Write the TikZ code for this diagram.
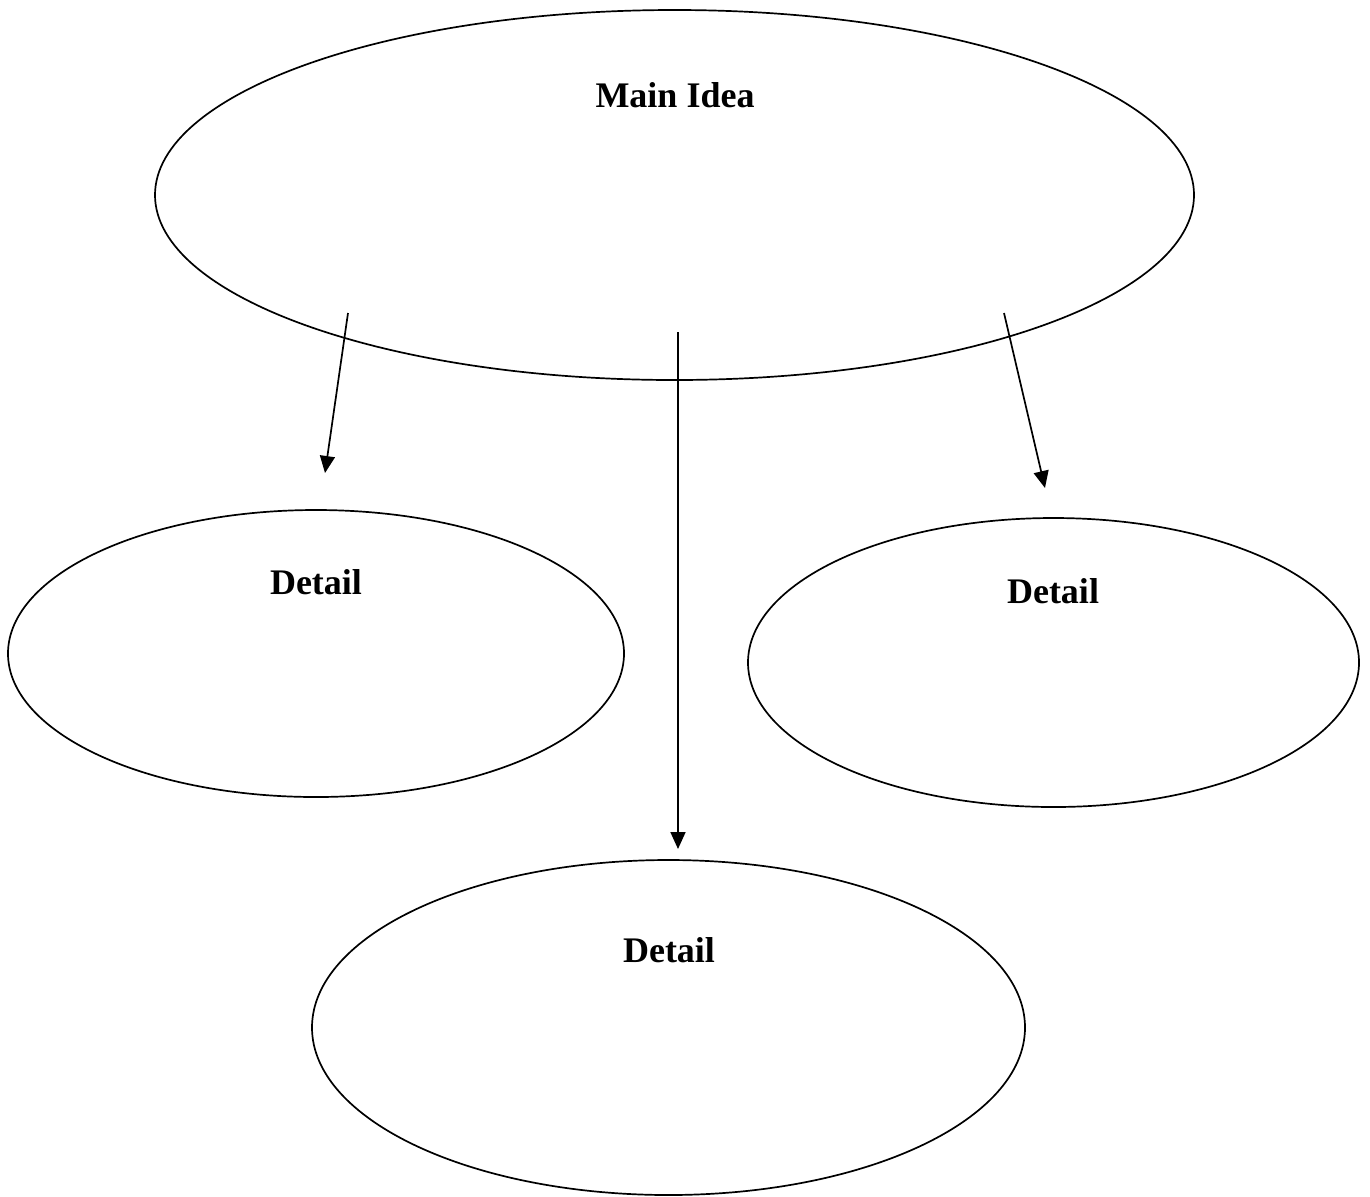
\documentclass[tikz,border=0pt]{standalone}
\usepackage{fontspec}
\setmainfont{Liberation Serif}
\usetikzlibrary{shapes.geometric,arrows.meta}
\begin{document}
\begin{tikzpicture}[x=0.5pt,y=-0.5pt,
  bubble/.style={draw=black,line width=0.85pt,ellipse,inner sep=0pt},
  lbl/.style={font=\fontsize{18}{20}\selectfont\bfseries,inner sep=0pt},
  arr/.style={draw=black,line width=0.85pt,-{Triangle[length=8.5pt,width=7.5pt]}}]
\useasboundingbox (0,0) rectangle (1370,1196);
\node[bubble,minimum width=1039pt*0.5,minimum height=370pt*0.5] (main) at (674.5,195) {};
\node[bubble,minimum width=616pt*0.5,minimum height=287pt*0.5] (dl) at (316,653.5) {};
\node[bubble,minimum width=611pt*0.5,minimum height=289pt*0.5] (dr) at (1053.5,662.5) {};
\node[bubble,minimum width=713pt*0.5,minimum height=335pt*0.5] (db) at (668.5,1027.5) {};
\node[lbl] (tmain) at (675,95) {Main Idea};
\node[lbl] (tdl) at (316,582) {Detail};
\node[lbl] (tdr) at (1053,591) {Detail};
\node[lbl] (tdb) at (669,950) {Detail};
\coordinate (s1) at (348,313);
\coordinate (e1) at (325,473);
\coordinate (s2) at (678,332);
\coordinate (e2) at (678,849);
\coordinate (s3) at (1004,313);
\coordinate (e3) at (1045,488);
\draw[arr] (s1) -- (e1);
\draw[arr] (s2) -- (e2);
\draw[arr] (s3) -- (e3);
\end{tikzpicture}
\end{document}
